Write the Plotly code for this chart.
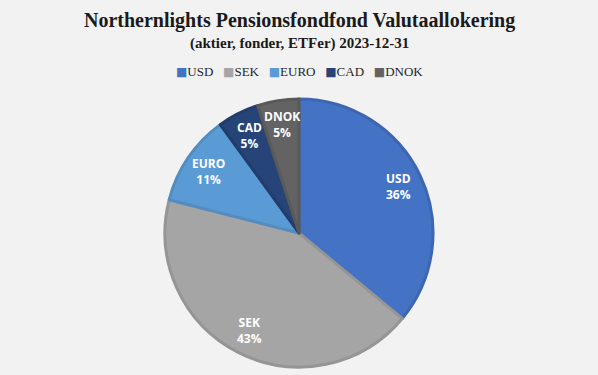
import math
import plotly.graph_objects as go

labels = ["USD", "SEK", "EURO", "CAD", "DNOK"]
values = [36, 43, 11, 5, 5]
colors = ["#4472C4", "#A5A5A5", "#5B9BD5", "#264478", "#636363"]
border_colors = ["#3D66B1", "#959595", "#528CC0", "#223D6C", "#595959"]

W, H = 598, 375
dom_x = [0.2759, 0.7241]
dom_y = [0.0213, 0.736]

fig = go.Figure(go.Pie(
    labels=labels,
    values=values,
    sort=False,
    direction="clockwise",
    rotation=0,
    marker=dict(colors=colors, line=dict(color=border_colors, width=3)),
    textinfo="none",
    hoverinfo="label+percent",
    domain=dict(x=dom_x, y=dom_y),
    showlegend=False,
))

# data labels, placed along each slice's mid-angle (derived from the values)
cx = (dom_x[0] + dom_x[1]) / 2 * W
cy = (dom_y[0] + dom_y[1]) / 2 * H
r = min((dom_x[1] - dom_x[0]) * W, (dom_y[1] - dom_y[0]) * H) / 2
total = sum(values)
annotations = []
cum = 0
for lab, v in zip(labels, values):
    mid = (cum + v / 2) / total * 2 * math.pi
    cum += v
    px = cx + 0.82 * r * math.sin(mid)
    py = cy + 0.82 * r * math.cos(mid)
    annotations.append(dict(
        text=f"<b>{lab}</b><br><b>{round(v / total * 100)}%</b>",
        x=px / W, y=py / H, xref="paper", yref="paper",
        xanchor="center", yanchor="middle", showarrow=False,
        font=dict(family="Open Sans, Noto Sans, sans-serif", size=12, color="white"),
    ))

# title and subtitle
annotations.append(dict(text="<b>Northernlights Pensionsfondfond Valutaallokering</b>", x=0.5, y=1 - 20 / H,
                        xref="paper", yref="paper", xanchor="center", yanchor="middle", showarrow=False,
                        font=dict(family="Liberation Serif, serif", size=20, color="#1a1a1a")))
annotations.append(dict(text="<b>(aktier, fonder, ETFer) 2023-12-31</b>", x=0.5, y=1 - 43 / H,
                        xref="paper", yref="paper", xanchor="center", yanchor="middle", showarrow=False,
                        font=dict(family="Liberation Serif, serif", size=15, color="#1a1a1a")))

# legend row
legend_text = "&nbsp;&nbsp;&nbsp;".join(
    f"<span style='color:{c};font-family:DejaVu Sans;font-size:12px'>■</span>{lab}"
    for lab, c in zip(labels, colors)
)
annotations.append(dict(text=legend_text, x=0.5, y=1 - 71 / H, xref="paper", yref="paper",
                        xanchor="center", yanchor="middle", showarrow=False,
                        font=dict(family="Liberation Serif, serif", size=13, color="#262626")))

fig.update_layout(
    width=W, height=H,
    paper_bgcolor="#F2F2F2", plot_bgcolor="#F2F2F2",
    margin=dict(l=0, r=0, t=0, b=0),
    annotations=annotations,
    showlegend=False,
)

fig.write_html(
    "out.html",
    config={"displayModeBar": False},
    post_script="document.body.style.margin='0';document.body.style.background='#F2F2F2';"
                "document.documentElement.style.overflow='hidden';",
)
